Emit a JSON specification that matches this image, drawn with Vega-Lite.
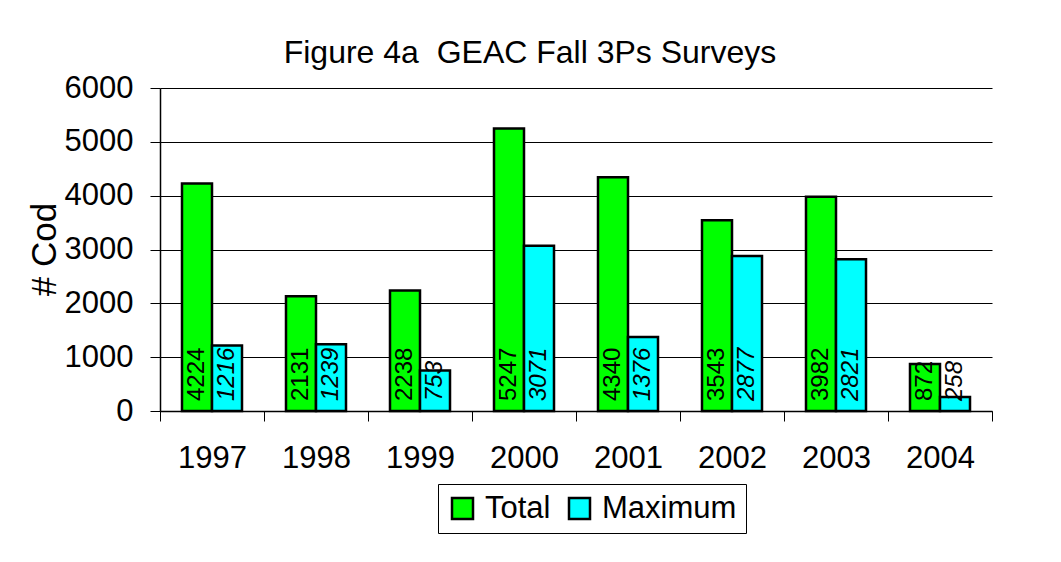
{
  "$schema": "https://vega.github.io/schema/vega-lite/v6.json",
  "width": 832,
  "height": 323,
  "autosize": {"type": "none"},
  "padding": {"left": 160, "top": 88, "right": 69, "bottom": 151},
  "background": "white",
  "config": {
    "font": "Liberation Sans",
    "view": {"stroke": null}
  },
  "title": {
    "text": "Figure 4a\u00a0\u00a0GEAC Fall 3Ps Surveys",
    "fontSize": 32,
    "fontWeight": "normal",
    "font": "Liberation Sans",
    "color": "black",
    "anchor": "middle",
    "baseline": "alphabetic",
    "offset": 25,
    "dx": -46,
    "dy": 48
  },
  "data": {
    "values": [
      {"year": "1997", "series": "Total", "value": 4224},
      {"year": "1997", "series": "Maximum", "value": 1216},
      {"year": "1998", "series": "Total", "value": 2131},
      {"year": "1998", "series": "Maximum", "value": 1239},
      {"year": "1999", "series": "Total", "value": 2238},
      {"year": "1999", "series": "Maximum", "value": 753},
      {"year": "2000", "series": "Total", "value": 5247},
      {"year": "2000", "series": "Maximum", "value": 3071},
      {"year": "2001", "series": "Total", "value": 4340},
      {"year": "2001", "series": "Maximum", "value": 1376},
      {"year": "2002", "series": "Total", "value": 3543},
      {"year": "2002", "series": "Maximum", "value": 2877},
      {"year": "2003", "series": "Total", "value": 3982},
      {"year": "2003", "series": "Maximum", "value": 2821},
      {"year": "2004", "series": "Total", "value": 872},
      {"year": "2004", "series": "Maximum", "value": 258}
    ]
  },
  "encoding": {
    "x": {
      "field": "year",
      "type": "nominal",
      "scale": {"paddingInner": 0, "paddingOuter": 0},
      "axis": {
        "title": null,
        "labelAngle": 0,
        "labelFontSize": 31,
        "labelColor": "black",
        "labelPadding": 22,
        "tickBand": "extent",
        "tickSize": 10,
        "tickColor": "black",
        "domainColor": "black",
        "domainWidth": 1.5,
        "grid": false
      }
    },
    "xOffset": {
      "field": "series",
      "type": "nominal",
      "sort": ["Total", "Maximum"],
      "scale": {"domain": ["Total", "Maximum"], "paddingInner": 0, "paddingOuter": 0.733}
    }
  },
  "layer": [
    {
      "mark": {"type": "bar", "stroke": "black", "strokeWidth": 2.5, "opacity": 1},
      "encoding": {
        "y": {
          "field": "value",
          "type": "quantitative",
          "scale": {"domain": [0, 6000], "nice": false},
          "axis": {
            "values": [0, 1000, 2000, 3000, 4000, 5000, 6000],
            "format": "d",
            "title": "# Cod",
            "titleFontSize": 35,
            "titleFontWeight": "normal",
            "titleColor": "black",
            "titleAngle": -90,
            "titleAlign": "center",
            "titleBaseline": "alphabetic",
            "titleX": -105,
            "titleY": 161,
            "labelFontSize": 31,
            "labelColor": "black",
            "labelPadding": 17,
            "tickSize": 10,
            "tickColor": "black",
            "domainColor": "black",
            "domainWidth": 1.5,
            "grid": true,
            "gridColor": "black",
            "gridWidth": 1
          }
        },
        "color": {
          "field": "series",
          "type": "nominal",
          "sort": ["Total", "Maximum"],
          "scale": {"domain": ["Total", "Maximum"], "range": ["#00FF00", "#00FFFF"]},
          "legend": {
            "title": null,
            "orient": "none",
            "legendX": 278,
            "legendY": 396,
            "direction": "horizontal",
            "strokeColor": "black",
            "padding": 9,
            "labelFontSize": 31,
            "labelColor": "black",
            "labelOffset": 7,
            "columnPadding": 13,
            "symbolType": "square",
            "symbolSize": 441,
            "symbolStrokeColor": "black",
            "symbolStrokeWidth": 2.5,
            "symbolOpacity": 1
          }
        }
      }
    },
    {
      "transform": [{"filter": "datum.series === 'Total'"}],
      "mark": {"type": "text", "angle": -90, "align": "left", "baseline": "middle", "dx": 10, "fontSize": 24, "color": "black", "font": "Liberation Sans"},
      "encoding": {
        "y": {"datum": 0, "type": "quantitative"},
        "text": {"field": "value", "type": "quantitative", "format": "d"}
      }
    },
    {
      "transform": [{"filter": "datum.series === 'Maximum'"}],
      "mark": {"type": "text", "angle": -90, "align": "left", "baseline": "middle", "dx": 10, "fontSize": 24, "fontStyle": "italic", "color": "black", "font": "Liberation Sans"},
      "encoding": {
        "y": {"datum": 0, "type": "quantitative"},
        "text": {"field": "value", "type": "quantitative", "format": "d"}
      }
    }
  ]
}
